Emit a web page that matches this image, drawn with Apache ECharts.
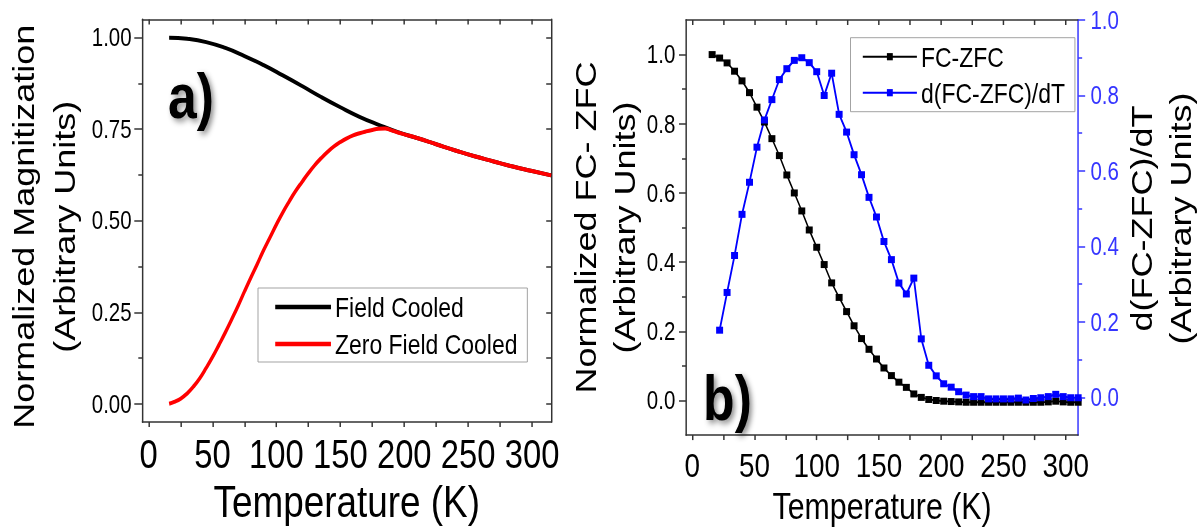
<!DOCTYPE html>
<html>
<head>
<meta charset="utf-8">
<script src="https://cdn.jsdelivr.net/npm/echarts@6/dist/echarts.min.js"></script>
<style>
html,body{margin:0;padding:0;overflow:hidden;background:#fff;width:1201px;height:529px;}
#wrap{width:1201px;height:529px;overflow:hidden;position:relative;}
#chart{width:1465px;height:529px;transform:scaleX(0.8198);transform-origin:0 0;position:absolute;left:0;top:0;}
</style>
</head>
<body>
<div id="wrap"><div id="chart"></div></div>
<script>
// ---- Panel a) data ----
const tempFC = [16,30,45,60,75,90,105,120,135,150,165,180,195,210,225,240,255,270,285,300,315];
const fieldCooled = [1.000,0.997,0.988,0.972,0.950,0.925,0.897,0.868,0.838,0.810,0.784,0.762,0.742,0.726,0.709,0.692,0.676,0.662,0.648,0.636,0.624];
const tempZFC = [16,20,25,30,35,40,45,50,55,60,65,70,75,80,85,90,95,100,105,110,115,120,125,130,135,140,145,150,155,160,165,170,175,180,185,190,195,200,210,225,240,255,270,285,300,315];
const zeroFieldCooled = [0.000,0.005,0.014,0.028,0.047,0.070,0.098,0.128,0.161,0.195,0.231,0.268,0.307,0.345,0.382,0.420,0.455,0.490,0.523,0.553,0.581,0.606,0.630,0.652,0.671,0.688,0.703,0.715,0.725,0.733,0.739,0.744,0.748,0.751,0.752,0.747,0.741,0.736,0.726,0.709,0.692,0.676,0.662,0.648,0.636,0.624];

// ---- Panel b) data ----
const tempDiff = [16,22,28,34,40,46,52,58,64,70,76,82,88,94,100,106,112,118,124,130,136,142,148,154,160,166,172,178,184,190,196,202,208,214,220,226,232,238,244,250,256,262,268,274,280,286,292,298,304,310];
const fcMinusZfc = [1.000,0.990,0.976,0.952,0.924,0.890,0.848,0.805,0.757,0.708,0.652,0.600,0.548,0.493,0.443,0.393,0.340,0.298,0.257,0.216,0.179,0.148,0.120,0.094,0.072,0.053,0.038,0.019,0.009,0.003,0.000,-0.002,-0.003,-0.004,-0.005,-0.005,-0.005,-0.005,-0.005,-0.005,-0.005,-0.005,-0.005,-0.005,-0.005,-0.004,-0.002,-0.004,-0.005,-0.005];
const tempDeriv = [22,28,34,40,46,52,58,64,70,76,82,88,94,100,106,112,118,124,130,136,142,148,154,160,166,172,178,184,190,196,202,208,214,220,226,232,238,244,250,256,262,268,274,280,286,292,298,304,310];
const dDiffdT = [0.178,0.278,0.376,0.485,0.570,0.663,0.735,0.789,0.842,0.871,0.893,0.900,0.887,0.863,0.800,0.859,0.750,0.703,0.643,0.590,0.530,0.478,0.413,0.365,0.303,0.274,0.316,0.155,0.085,0.057,0.036,0.027,0.015,0.006,0.002,0.002,-0.004,-0.004,-0.004,-0.004,-0.002,-0.007,-0.003,-0.001,0.002,0.008,0.002,-0.001,-0.001];

// ---- Tick labels ----
const xLabelTicks = [0,50,100,150,200,250,300];
const xAllTicks = [0,25,50,75,100,125,150,175,200,225,250,275,300];
const yLabelTicksA = [0,0.25,0.5,0.75,1.0];
const yMinorTicksA = [0.125,0.375,0.625,0.875];
const yAllTicksA = [0,0.125,0.25,0.375,0.5,0.625,0.75,0.875,1.0];
const yLabelTicksB = [0,0.2,0.4,0.6,0.8,1.0];
const yMinorTicksB = [0.1,0.3,0.5,0.7,0.9];

const S = 0.8198;            // horizontal squash of the whole figure
const hx = v => v / S;       // horizontal px (picture) -> chart px
const FF = "'Liberation Sans', Arial, sans-serif";
const AX = '#333';
const BLUE = '#3535ff';
const zip = (xs, ys) => xs.map((x, i) => [x, ys[i]]);

function line(color, w) { return {show: true, onZero: false, lineStyle: {color: color, width: w}}; }

const chart = echarts.init(document.getElementById('chart'), null, {renderer: 'svg'});
chart.setOption({
  animation: false,
  backgroundColor: '#fff',
  textStyle: {fontFamily: FF},
  grid: [
    {left: hx(142.3), right: 1465 - hx(551.2), top: 19.4, bottom: 529 - 422.3},
    {left: hx(686), right: 1465 - hx(1079.3), top: 20, bottom: 529 - 444.3}
  ],
  xAxis: [
    {gridIndex: 0, type: 'value', position: 'bottom', min: -5, max: 315,
     axisLine: line(AX, 1.5), splitLine: {show: false},
     axisTick: {show: true, inside: false, length: 5, customValues: xAllTicks, lineStyle: {color: AX, width: 1.8}},
     axisLabel: {customValues: xLabelTicks, fontSize: 40, color: '#000', margin: 12, fontFamily: FF},
     name: 'Temperature (K)', nameLocation: 'middle', nameGap: 48,
     nameTextStyle: {fontSize: 45, color: '#000', fontFamily: FF}},
    {gridIndex: 0, type: 'value', position: 'top', min: -5, max: 315,
     axisLine: line(AX, 1.5), splitLine: {show: false},
     axisTick: {show: true, inside: true, length: 5, customValues: xAllTicks, lineStyle: {color: AX, width: 1.8}},
     axisLabel: {show: false}},
    {gridIndex: 1, type: 'value', position: 'bottom', min: -5, max: 310,
     axisLine: line(AX, 1.5), splitLine: {show: false},
     axisTick: {show: true, inside: false, length: 5, customValues: xAllTicks, lineStyle: {color: AX, width: 1.8}},
     axisLabel: {customValues: xLabelTicks, fontSize: 34, color: '#000', margin: 13, fontFamily: FF},
     name: 'Temperature (K)', nameLocation: 'middle', nameGap: 47,
     nameTextStyle: {fontSize: 37, color: '#000', fontFamily: FF}},
    {gridIndex: 1, type: 'value', position: 'top', min: -5, max: 310,
     axisLine: line(AX, 1.5), splitLine: {show: false},
     axisTick: {show: true, inside: true, length: 5, customValues: xAllTicks, lineStyle: {color: AX, width: 1.8}},
     axisLabel: {show: false}}
  ],
  yAxis: [
    {gridIndex: 0, type: 'value', position: 'left', min: -0.05, max: 1.05,
     axisLine: line(AX, 1.8), splitLine: {show: false},
     axisTick: {show: true, length: hx(8), customValues: yLabelTicksA, lineStyle: {color: AX, width: 1.5}},
     axisLabel: {customValues: yLabelTicksA, formatter: v => v.toFixed(2), fontSize: 25, color: '#000', margin: 13, fontFamily: FF},
     name: 'Normalized Magnitization\n(Arbitrary Units)', nameLocation: 'middle', nameRotate: 90, nameGap: 70,
     nameTextStyle: {fontSize: 36, lineHeight: 50, color: '#000', fontFamily: FF, padding: [0, 12, 0, 0]}},
    {gridIndex: 0, type: 'value', position: 'left', min: -0.05, max: 1.05,
     axisLine: {show: false, onZero: false}, splitLine: {show: false}, axisLabel: {show: false},
     axisTick: {show: true, length: hx(4), customValues: yMinorTicksA, lineStyle: {color: AX, width: 1.5}}},
    {gridIndex: 0, type: 'value', position: 'right', min: -0.05, max: 1.05,
     axisLine: line(AX, 1.8), splitLine: {show: false}, axisLabel: {show: false},
     axisTick: {show: true, inside: true, length: hx(5), customValues: yAllTicksA, lineStyle: {color: AX, width: 1.5}}},
    {gridIndex: 1, type: 'value', position: 'left', min: -0.1, max: 1.1,
     axisLine: line(AX, 1.8), splitLine: {show: false},
     axisTick: {show: true, length: hx(7), customValues: yLabelTicksB, lineStyle: {color: AX, width: 1.5}},
     axisLabel: {customValues: yLabelTicksB, formatter: v => v.toFixed(1), fontSize: 25, color: '#000', margin: 13, fontFamily: FF},
     name: 'Normalized FC- ZFC\n(Arbitrary Units)', nameLocation: 'middle', nameRotate: 90, nameGap: 44,
     nameTextStyle: {fontSize: 36, lineHeight: 47, color: '#000', fontFamily: FF}},
    {gridIndex: 1, type: 'value', position: 'left', min: -0.1, max: 1.1,
     axisLine: {show: false, onZero: false}, splitLine: {show: false}, axisLabel: {show: false},
     axisTick: {show: true, length: hx(4), customValues: yMinorTicksB, lineStyle: {color: AX, width: 1.5}}},
    {gridIndex: 1, type: 'value', position: 'right', min: -0.1, max: 1.0,
     axisLine: line(BLUE, 1.8), splitLine: {show: false},
     axisTick: {show: true, length: hx(7), customValues: yLabelTicksB, lineStyle: {color: BLUE, width: 1.5}},
     axisLabel: {customValues: yLabelTicksB, formatter: v => v.toFixed(1), fontSize: 25, color: BLUE, margin: 15, fontFamily: FF},
     name: 'd(FC-ZFC)/dT\n(Arbitrary Units)', nameLocation: 'middle', nameRotate: 90, nameGap: 47,
     nameTextStyle: {fontSize: 36, lineHeight: 47.6, color: '#000', fontFamily: FF, padding: [0, 0, 0, 18]}},
    {gridIndex: 1, type: 'value', position: 'right', min: -0.1, max: 1.0,
     axisLine: {show: false, onZero: false}, splitLine: {show: false}, axisLabel: {show: false},
     axisTick: {show: true, length: hx(4), customValues: yMinorTicksB, lineStyle: {color: BLUE, width: 1.5}}}
  ],
  legend: [
    {data: [{name: 'Field Cooled', icon: 'rect'}, {name: 'Zero Field Cooled', icon: 'rect'}],
     orient: 'vertical', left: hx(258), top: 288,
     padding: [5, 12, 4, 21], itemWidth: 68, itemHeight: 4.5, itemGap: 9,
     borderColor: '#999', borderWidth: 1, backgroundColor: '#fff',
     textStyle: {fontSize: 28, lineHeight: 28, color: '#000', fontFamily: FF}},
    {data: ['FC-ZFC', 'd(FC-ZFC)/dT'], orient: 'vertical', left: hx(850.5), top: 37.7,
     padding: [5, 12, 5, 14], itemWidth: 66, itemHeight: 9, itemGap: 8,
     borderColor: '#999', borderWidth: 1, backgroundColor: '#fff',
     textStyle: {fontSize: 28, lineHeight: 28, color: '#000', fontFamily: FF}}
  ],
  graphic: [
    {type: 'text', x: hx(191), y: 96, z: 100,
     style: {text: 'a)', fontSize: 63, fontWeight: 'bold', fontFamily: FF, fill: '#000', align: 'center', verticalAlign: 'middle',
             textShadowColor: 'rgba(0,0,0,0.45)', textShadowBlur: 6, textShadowOffsetX: 3, textShadowOffsetY: 3}},
    {type: 'text', x: hx(727.5), y: 398, z: 100,
     style: {text: 'b)', fontSize: 63, fontWeight: 'bold', fontFamily: FF, fill: '#000', align: 'center', verticalAlign: 'middle',
             textShadowColor: 'rgba(0,0,0,0.45)', textShadowBlur: 6, textShadowOffsetX: 3, textShadowOffsetY: 3}}
  ],
  series: [
    {type: 'line', name: 'Field Cooled', xAxisIndex: 0, yAxisIndex: 0, data: zip(tempFC, fieldCooled),
     smooth: 0.5, symbol: 'none', lineStyle: {color: '#000', width: 4}, itemStyle: {color: '#000'}},
    {type: 'line', name: 'Zero Field Cooled', xAxisIndex: 0, yAxisIndex: 0, data: zip(tempZFC, zeroFieldCooled),
     smooth: 0.5, symbol: 'none', lineStyle: {color: '#ff0000', width: 4}, itemStyle: {color: '#ff0000'}},
    {type: 'line', name: 'FC-ZFC', xAxisIndex: 2, yAxisIndex: 3, data: zip(tempDiff, fcMinusZfc),
     symbol: 'rect', symbolSize: [8.5, 7], lineStyle: {color: '#000', width: 1.8}, itemStyle: {color: '#000'}},
    {type: 'line', name: 'd(FC-ZFC)/dT', xAxisIndex: 2, yAxisIndex: 5, data: zip(tempDeriv, dDiffdT),
     symbol: 'rect', symbolSize: [8.5, 7], lineStyle: {color: '#0000ff', width: 2.2}, itemStyle: {color: '#0000ff'}}
  ]
});
</script>
</body>
</html>
